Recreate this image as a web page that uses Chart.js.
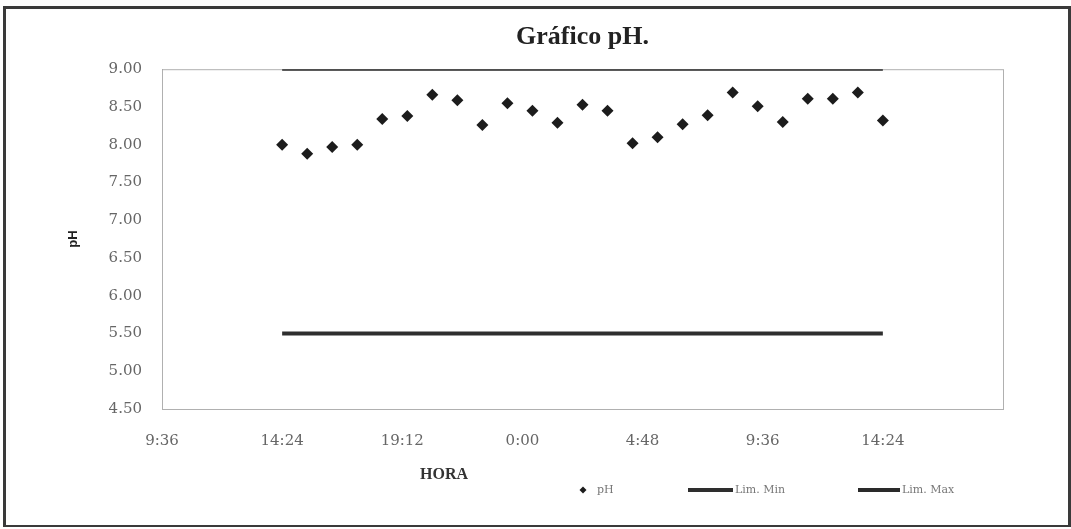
<!DOCTYPE html>
<html>
<head>
<meta charset="utf-8">
<script src="https://cdn.jsdelivr.net/npm/chart.js@4.4.0/dist/chart.umd.min.js"></script>
<style>
html, body { margin: 0; padding: 0; background: #fff; }
#wrap { position: relative; width: 1071px; height: 529px; overflow: hidden; }
#marco { position: absolute; left: 3px; top: 6px; width: 1062px; height: 516px; border: 3px solid #3a3a3a; border-bottom-width: 2px; pointer-events: none; }
</style>
</head>
<body>
<div id="wrap">
<canvas id="grafico-ph" width="1071" height="529"></canvas>
<div id="marco"></div>
</div>
<script>
// Lecturas horarias de pH
const horas = ['14:24', '15:24', '16:24', '17:24', '18:24', '19:24', '20:24', '21:24', '22:24', '23:24',
               '0:24', '1:24', '2:24', '3:24', '4:24', '5:24', '6:24', '7:24', '8:24', '9:24',
               '10:24', '11:24', '12:24', '13:24', '14:24'];
const valoresPH = [8.00, 7.88, 7.97, 8.00, 8.34, 8.38, 8.66, 8.59, 8.26, 8.55,
                   8.45, 8.29, 8.53, 8.45, 8.02, 8.10, 8.27, 8.39, 8.69, 8.51,
                   8.30, 8.61, 8.61, 8.69, 8.32];
const limMin = 5.5;
const limMax = 9.0;
// etiquetas del eje X (la ultima no aparece en el original)
const etiquetasHora = ['9:36', '14:24', '19:12', '0:00', '4:48', '9:36', '14:24', ''];

// horas -> fraccion de dia (pasa al dia siguiente despues de medianoche)
let dia = 0, prev = -1;
const tiempos = horas.map(h => {
    const [hh, mm] = h.split(':').map(Number);
    const mins = hh * 60 + mm;
    if (mins < prev) dia++;
    prev = mins;
    return dia + mins / 1440;
});

const puntosPH = tiempos.map((t, i) => ({ x: t, y: valoresPH[i] }));
const lineaMin = tiempos.map(t => ({ x: t, y: limMin }));
const lineaMax = tiempos.map(t => ({ x: t, y: limMax }));

const extras = {
    id: 'extras',
    beforeDraw(chart) {
        const ctx = chart.ctx;
        ctx.save();
        ctx.fillStyle = '#fff';
        ctx.fillRect(0, 0, chart.width, chart.height);
        ctx.restore();
    },
    beforeDatasetsDraw(chart) {
        const { ctx, chartArea: a } = chart;
        ctx.save();
        ctx.strokeStyle = '#b0b0b0';
        ctx.lineWidth = 1;
        ctx.strokeRect(a.left + 0.5, a.top + 0.5, a.right - a.left, a.bottom - a.top);
        ctx.restore();
    },
    afterDraw(chart) {
        const { ctx, chartArea: a } = chart;
        const ds = chart.data.datasets;
        ctx.save();
        // titulo eje X
        ctx.fillStyle = '#333';
        ctx.font = 'bold 16px "Liberation Serif"';
        ctx.textAlign = 'center';
        ctx.textBaseline = 'middle';
        ctx.fillText('HORA', a.left + 282, a.bottom + 66);

        // leyenda
        const y = a.bottom + 81;
        ctx.font = '11px "DejaVu Serif"';
        ctx.textAlign = 'left';
        ctx.fillStyle = ds[0].backgroundColor;
        ctx.beginPath();
        const px = a.left + 421;
        ctx.moveTo(px, y - 3.5); ctx.lineTo(px + 3.5, y); ctx.lineTo(px, y + 3.5); ctx.lineTo(px - 3.5, y);
        ctx.closePath();
        ctx.fill();
        ctx.fillStyle = '#777';
        ctx.fillText(ds[0].label, a.left + 435, y);

        [[1, 526, 571], [2, 696, 738]].forEach(([i, x0, x1]) => {
            ctx.strokeStyle = ds[i].borderColor;
            ctx.lineWidth = 4;
            ctx.beginPath();
            ctx.moveTo(a.left + x0, y);
            ctx.lineTo(a.left + x1, y);
            ctx.stroke();
            ctx.fillStyle = '#777';
            ctx.fillText(ds[i].label, a.left + x1 + 2, y);
        });
        ctx.restore();
    }
};

const ctx = document.getElementById('grafico-ph').getContext('2d');
const graficoPH = new Chart(ctx, {
    type: 'scatter',
    data: {
        datasets: [
            {
                label: 'pH',
                data: puntosPH,
                pointStyle: 'rectRot',
                pointRadius: 6,
                backgroundColor: '#1c1c1c',
                borderColor: '#1c1c1c',
                borderWidth: 0,
            },
            {
                label: 'Lim. Min',
                type: 'line',
                data: lineaMin,
                borderColor: '#2e2e2e',
                borderWidth: 4,
                pointRadius: 0,
                fill: false,
            },
            {
                label: 'Lim. Max',
                type: 'line',
                data: lineaMax,
                borderColor: '#2a2a2a',
                borderWidth: 3,
                pointRadius: 0,
                fill: false,
            },
        ],
    },
    options: {
        responsive: false,
        animation: false,
        layout: { padding: { left: 62, right: 68, top: 0, bottom: 0 } },
        plugins: {
            legend: { display: false },
            tooltip: { enabled: false },
            title: {
                display: true,
                fullSize: false,
                text: 'Gráfico pH.',
                color: '#222',
                font: { family: 'Liberation Serif', size: 26, weight: 'bold' },
                padding: { top: 22, bottom: 16 },
            },
        },
        scales: {
            x: {
                type: 'linear',
                min: 0.4,
                max: 1.8,
                afterFit: s => { s.height = 120; },
                grid: { display: false, drawTicks: false },
                border: { display: true, color: '#8a8a8a' },
                ticks: {
                    stepSize: 0.2,
                    padding: 23,
                    color: '#666',
                    font: { family: 'DejaVu Serif', size: 15 },
                    callback: (v, i) => etiquetasHora[i],
                },
            },
            y: {
                min: 4.5,
                max: 9,
                afterFit: s => { s.width = 100; },
                grid: { display: false, drawTicks: false },
                border: { display: true, color: '#8a8a8a' },
                title: {
                    display: true,
                    text: 'pH',
                    color: '#222',
                    font: { family: 'Liberation Sans', size: 13, weight: 'bold' },
                },
                ticks: {
                    stepSize: 0.5,
                    padding: 20,
                    color: '#666',
                    font: { family: 'DejaVu Serif', size: 15 },
                    callback: v => v.toFixed(2),
                },
            },
        },
    },
    plugins: [extras],
});
</script>
</body>
</html>
